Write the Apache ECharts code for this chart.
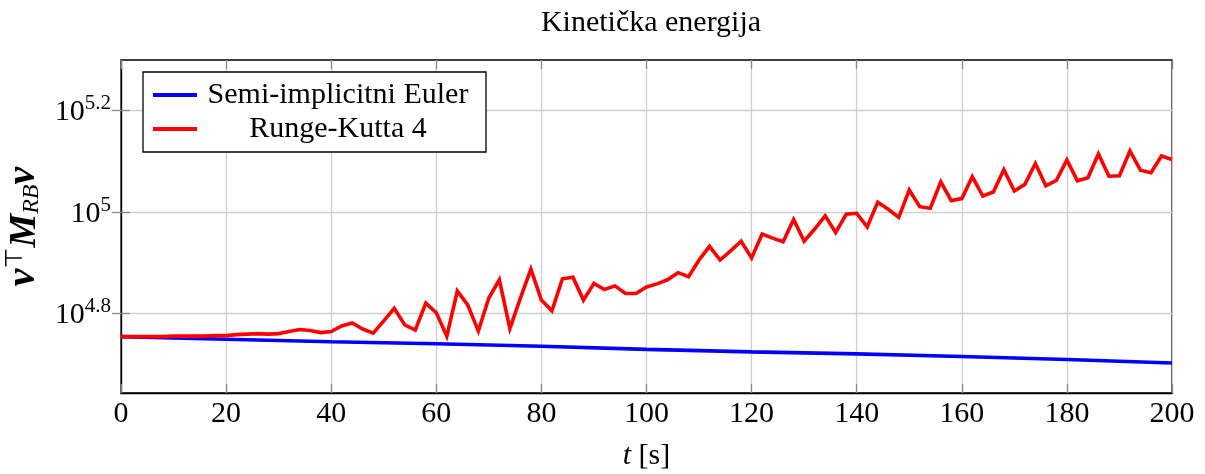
<!DOCTYPE html>
<html>
<head>
<meta charset="utf-8">
<script src="https://cdn.jsdelivr.net/npm/echarts@6/dist/echarts.min.js"></script>
<style>
	html, body { margin: 0; padding: 0; background: #fff; }
	#main { width: 1205px; height: 474px; }
</style>
</head>
<body>
<div id="main"></div>
<script>
// time stamps [s] and log10 of kinetic energy
let eulerTime = [0, 20, 40, 60, 80, 100, 120, 140, 160, 180, 200];
let eulerLog10 = [4.754, 4.749, 4.744, 4.740, 4.735, 4.729, 4.724, 4.720, 4.715, 4.709, 4.702];

let rkTime = [
	0, 2, 4, 6, 8, 10, 12, 14, 16, 18, 20, 22, 24, 26, 28, 30, 32, 34, 36, 38,
	40, 42, 44, 46, 48, 50, 52, 54, 56, 58, 60, 62, 64, 66, 68, 70, 72, 74, 76, 78,
	80, 82, 84, 86, 88, 90, 92, 94, 96, 98, 100, 102, 104, 106, 108, 110, 112, 114, 116, 118,
	120, 122, 124, 126, 128, 130, 132, 134, 136, 138, 140, 142, 144, 146, 148, 150, 152, 154, 156, 158,
	160, 162, 164, 166, 168, 170, 172, 174, 176, 178, 180, 182, 184, 186, 188, 190, 192, 194, 196, 198,
	200,
];
let rkLog10 = [
	4.754, 4.754, 4.754, 4.754, 4.754, 4.755, 4.755, 4.755, 4.755, 4.756, 4.756, 4.758, 4.759, 4.760, 4.759, 4.760, 4.764, 4.768, 4.766, 4.762,
	4.764, 4.775, 4.781, 4.769, 4.761, 4.785, 4.810, 4.777, 4.767, 4.820, 4.801, 4.755, 4.844, 4.816, 4.765, 4.830, 4.866, 4.770, 4.830, 4.887,
	4.826, 4.805, 4.868, 4.871, 4.826, 4.859, 4.847, 4.854, 4.839, 4.839, 4.852, 4.858, 4.866, 4.880, 4.872, 4.905, 4.932, 4.905, 4.923, 4.942,
	4.909, 4.956, 4.948, 4.941, 4.985, 4.942, 4.966, 4.992, 4.959, 4.995, 4.997, 4.970, 5.019, 5.005, 4.989, 5.043, 5.010, 5.007, 5.059, 5.022,
	5.026, 5.069, 5.031, 5.039, 5.083, 5.041, 5.054, 5.095, 5.051, 5.062, 5.102, 5.061, 5.067, 5.114, 5.070, 5.071, 5.120, 5.082, 5.077, 5.110,
	5.103,
];

let yTicks = [4.8, 5.0, 5.2];

const serif = "'Liberation Serif', 'DejaVu Serif', serif";

function pairs(xs, ys) {
	return xs.map((x, i) => [x, ys[i]]);
}

function powLabel(value) {
	const exp = Number(value.toFixed(1));
	return "{b|10}{s|" + exp + "}";
}

let myChart = echarts.init(document.getElementById("main"));

let options = {
	backgroundColor: "#fff",
	animation: false,
	textStyle: { fontFamily: serif, color: "#000" },
	title: {
		text: "Kinetička energija",
		left: 646,
		textAlign: "center",
		top: 3,
		textStyle: { fontFamily: serif, fontWeight: "normal", fontSize: 30, color: "#000" },
	},
	grid: {
		left: 121,
		right: 33,
		top: 60,
		bottom: 81,
		containLabel: false,
		outerBoundsMode: "none",
		show: true,
		borderColor: "#000",
		borderWidth: 1.3,
	},
	legend: {
		orient: "vertical",
		left: 143,
		top: 72,
		padding: [8, 12, 8, 10],
		itemWidth: 44,
		itemHeight: 4,
		itemGap: 4,
		itemTextGap: 6,
		icon: "rect",
		borderColor: "#000",
		borderWidth: 1.3,
		borderRadius: 0,
		backgroundColor: "#fff",
		formatter: (name) => "{c|" + name + "}",
		textStyle: {
			fontFamily: serif,
			fontSize: 30,
			color: "#000",
			rich: {
				c: { fontFamily: serif, fontSize: 30, width: 272, align: "center", lineHeight: 30 },
			},
		},
		data: ["Semi-implicitni Euler", "Runge-Kutta 4"],
	},
	xAxis: [
		{
			type: "value",
			min: 0,
			max: 200,
			interval: 20,
			name: "{i|t} [s]",
			nameLocation: "middle",
			nameGap: 48,
			nameTextStyle: {
				fontFamily: serif,
				fontSize: 30,
				color: "#000",
				rich: { i: { fontFamily: serif, fontStyle: "italic", fontSize: 30 } },
			},
			axisLine: { show: true, onZero: false, lineStyle: { color: "#000", width: 1.3 } },
			axisTick: { show: true, inside: true, length: 9, lineStyle: { color: "#8a8a8a", width: 1.3 } },
			axisLabel: { fontFamily: serif, fontSize: 30, color: "#000", margin: 6 },
			splitLine: { show: true, lineStyle: { color: "#cfcfcf", width: 1.3 } },
		},
		{
			type: "value",
			position: "top",
			min: 0,
			max: 200,
			interval: 20,
			axisLine: { show: false },
			axisTick: { show: true, inside: true, length: 9, lineStyle: { color: "#8a8a8a", width: 1.3 } },
			axisLabel: { show: false },
			splitLine: { show: false },
		},
	],
	yAxis: [
		{
			type: "value",
			min: 4.643,
			max: 5.299,
			name: "{v|ν}{sup|⊤}{m|M}{sub|RB}{v|ν}",
			nameLocation: "middle",
			nameGap: 58,
			nameTextStyle: {
				color: "#000",
				rich: {
					v: { fontFamily: serif, fontStyle: "italic", fontWeight: "bold", fontSize: 40, lineHeight: 40, verticalAlign: "bottom" },
					m: { fontFamily: serif, fontStyle: "italic", fontWeight: "bold", fontSize: 38, lineHeight: 40, verticalAlign: "bottom" },
					sup: { fontFamily: "'DejaVu Sans', sans-serif", fontSize: 24, lineHeight: 24, verticalAlign: "top" },
					sub: { fontFamily: serif, fontStyle: "italic", fontSize: 24, lineHeight: 22, verticalAlign: "bottom" },
				},
			},
			axisLine: { show: true, onZero: false, lineStyle: { color: "#000", width: 1.3 } },
			axisTick: { show: true, inside: true, length: 9, customValues: yTicks, lineStyle: { color: "#8a8a8a", width: 1.3 } },
			axisLabel: {
				customValues: yTicks,
				margin: 10,
				formatter: powLabel,
				rich: {
					b: { fontFamily: serif, fontSize: 30, lineHeight: 34, verticalAlign: "bottom", color: "#000" },
					s: { fontFamily: serif, fontSize: 21, lineHeight: 22, verticalAlign: "top", color: "#000" },
				},
			},
			splitLine: { show: true, lineStyle: { color: "#cfcfcf", width: 1.3 } },
		},
		{
			type: "value",
			position: "right",
			min: 4.643,
			max: 5.299,
			axisLine: { show: false },
			axisTick: { show: true, inside: true, length: 9, customValues: yTicks, lineStyle: { color: "#8a8a8a", width: 1.3 } },
			axisLabel: { show: false },
			splitLine: { show: false },
		},
	],
	series: [
		{
			name: "Semi-implicitni Euler",
			type: "line",
			data: pairs(eulerTime, eulerLog10),
			showSymbol: false,
			symbol: "none",
			color: "#0000ff",
			lineStyle: { color: "#0000ff", width: 3.6 },
			z: 3,
		},
		{
			name: "Runge-Kutta 4",
			type: "line",
			data: pairs(rkTime, rkLog10),
			showSymbol: false,
			symbol: "none",
			color: "#ff0000",
			lineStyle: { color: "#ff0000", width: 3.6, join: "miter" },
			z: 4,
		},
	],
};

myChart.setOption(options);
</script>
</body>
</html>
